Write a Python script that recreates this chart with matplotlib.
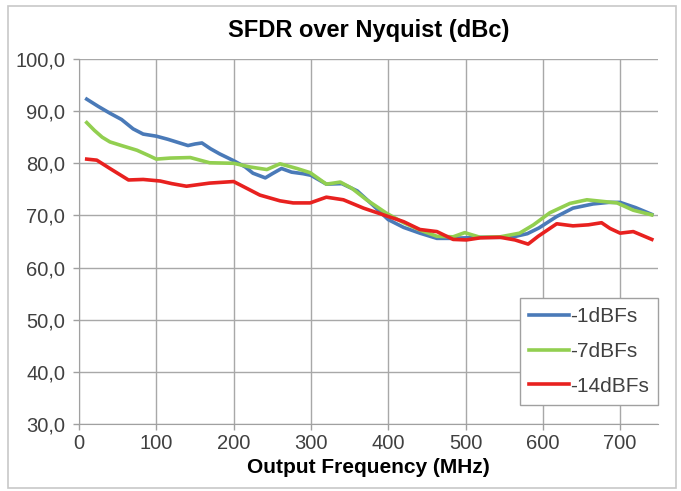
import matplotlib

matplotlib.use("Agg")

import matplotlib.pyplot as plt
from matplotlib.patches import Rectangle

plt.rcParams["font.family"] = ["Liberation Sans", "DejaVu Sans"]

# -1dBFs
X_1DB = [10, 25, 40, 55, 70, 83, 100, 115, 128, 141, 150, 159, 170, 182, 200, 215, 225,
         241, 250, 262, 275, 290, 300, 320, 340, 360, 380, 400, 420, 441, 463, 480, 500,
         520, 545, 565, 580, 595, 618, 639, 665, 685, 700, 720, 741]
Y_1DB = [92.3, 90.9, 89.6, 88.4, 86.6, 85.6, 85.2, 84.6, 84.0, 83.4, 83.7, 83.9, 82.8,
         81.8, 80.5, 79.3, 78.1, 77.2, 78.0, 79.0, 78.3, 78.0, 77.7, 76.0, 76.1, 74.7,
         72.0, 69.2, 67.7, 66.6, 65.6, 65.6, 65.7, 65.8, 65.8, 66.0, 66.5, 67.6, 69.8,
         71.4, 72.2, 72.5, 72.5, 71.5, 70.2]

# -7dBFs
X_7DB = [10, 20, 30, 40, 55, 75, 90, 100, 118, 144, 169, 200, 221, 243, 260, 282, 299,
         320, 338, 353, 372, 398, 420, 441, 463, 484, 499, 519, 545, 570, 588, 609, 635,
         657, 683, 696, 717, 741]
Y_7DB = [87.8, 86.3, 85.0, 84.1, 83.4, 82.5, 81.5, 80.8, 81.0, 81.1, 80.1, 80.0, 79.3,
         78.8, 79.9, 79.0, 78.2, 76.0, 76.4, 75.2, 73.0, 70.4, 68.6, 67.2, 66.0, 65.9,
         66.7, 65.8, 65.9, 66.6, 68.2, 70.5, 72.3, 73.0, 72.6, 72.4, 71.0, 70.1]

# -14dBFs
X_14DB = [10, 23, 40, 64, 83, 105, 120, 139, 169, 200, 217, 234, 260, 277, 299, 320, 342,
          368, 400, 420, 441, 463, 484, 501, 519, 545, 564, 581, 594, 618, 639, 659, 676,
          687, 700, 717, 741]
Y_14DB = [80.8, 80.6, 79.0, 76.8, 76.9, 76.6, 76.1, 75.6, 76.2, 76.5, 75.2, 73.9, 72.8,
          72.4, 72.4, 73.5, 73.0, 71.4, 69.8, 68.8, 67.3, 66.9, 65.4, 65.3, 65.7, 65.8,
          65.3, 64.5, 66.0, 68.4, 68.0, 68.2, 68.6, 67.5, 66.6, 66.9, 65.4]

X_TICKS = [0, 100, 200, 300, 400, 500, 600, 700]
Y_TICKS = [30, 40, 50, 60, 70, 80, 90, 100]

W, H = 681, 491


def main() -> None:
    fig = plt.figure(figsize=(W / 100, H / 100), dpi=100)
    fig.patches.append(Rectangle((8 / W, 3 / H), 668 / W, 482 / H, transform=fig.transFigure,
                                 facecolor="none", edgecolor="#c8c8c8", linewidth=1.2))
    ax = fig.add_axes([79 / W, (H - 424) / H, (658 - 79) / W, (424 - 59) / H])

    ax.plot(X_1DB, Y_1DB, color="#4a7ab8", linewidth=2.6, solid_joinstyle="round", label="-1dBFs")
    ax.plot(X_7DB, Y_7DB, color="#92cf50", linewidth=2.6, solid_joinstyle="round", label="-7dBFs")
    ax.plot(X_14DB, Y_14DB, color="#e8211f", linewidth=2.6, solid_joinstyle="round", label="-14dBFs")

    ax.set_xlim(0, 749)
    ax.set_ylim(30, 100)
    ax.set_xticks(X_TICKS)
    ax.set_yticks(Y_TICKS)
    ax.set_yticklabels([f"{v:.1f}".replace(".", ",") for v in Y_TICKS])
    ax.tick_params(colors="#a0a0a0", labelcolor="#404040", labelsize=14.5, length=4, width=1)
    ax.tick_params(axis="y", pad=6)
    ax.grid(color="#a8a8a8", linewidth=1)
    ax.set_axisbelow(True)
    for side in ("top", "right"):
        ax.spines[side].set_visible(False)
    for side in ("left", "bottom"):
        ax.spines[side].set_color("#a0a0a0")

    ax.set_title("SFDR over Nyquist (dBc)", fontsize=17, fontweight="bold", pad=16)
    ax.set_xlabel("Output Frequency (MHz)", fontsize=15, fontweight="bold", labelpad=3)

    leg = ax.legend(loc="lower right", bbox_to_anchor=(1.0, 0.052), borderaxespad=0,
                    fontsize=15, handlelength=1.9, handletextpad=0.05, labelspacing=0.75,
                    fancybox=False, borderpad=0.45, framealpha=1)
    leg.get_frame().set_edgecolor("#a0a0a0")
    for text in leg.get_texts():
        text.set_color("#404040")

    fig.savefig("out.png", dpi=100)
    plt.close(fig)


if __name__ == "__main__":
    main()
